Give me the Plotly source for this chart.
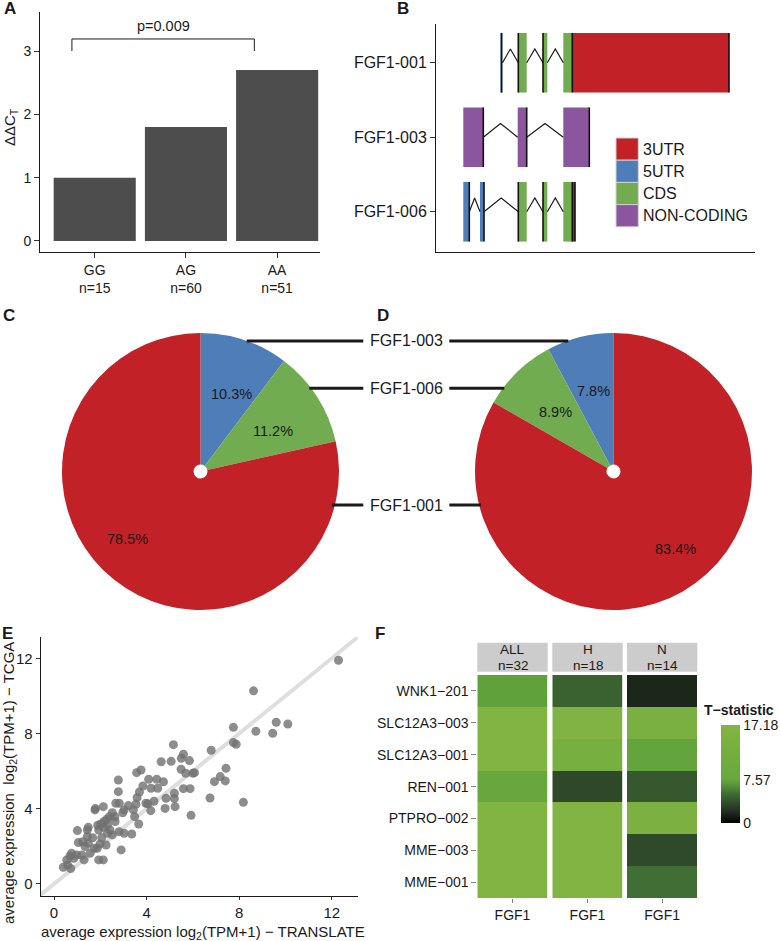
import math
import plotly.graph_objects as go

W, H = 780, 941
FONT = "Liberation Sans, Arial, sans-serif"
INK = "#1a1a1a"

# ---------------- Panel A data ----------------
genotypes = ["GG", "AG", "AA"]
genotype_n = [15, 60, 51]
ddct = [1.0, 1.8, 2.7]
p_label = "p=0.009"
bracket_x = [-0.25, 1.75]
bracket_y = [3.0, 3.19]

# ---------------- Panel B data ----------------
transcripts = ["FGF1-001", "FGF1-003", "FGF1-006"]
tx_pos = [3, 2, 1]
exon_tx = ["FGF1-001"] * 5 + ["FGF1-003"] * 3 + ["FGF1-006"] * 6
exon_start = [64.5, 82.3, 107.0, 127.3, 136.3,
              27.3, 81.7, 127.3,
              27.3, 44.0, 82.3, 107.0, 127.3, 136.3]
exon_end = [66.5, 90.7, 111.3, 136.3, 293.0,
            47.3, 90.7, 153.3,
            33.3, 48.0, 90.7, 111.3, 136.3, 139.0]
exon_type = ["5UTR", "CDS", "CDS", "CDS", "3UTR",
             "NON-CODING", "NON-CODING", "NON-CODING",
             "5UTR", "5UTR", "CDS", "CDS", "CDS", "3UTR"]
edge_tx = ["FGF1-001"] * 5 + ["FGF1-003"] * 3 + ["FGF1-006"] * 6
edge_x = [65.5, 82.3, 107.0, 136.3, 293.0,
          47.3, 90.7, 153.3,
          33.3, 48.0, 82.3, 107.0, 136.3, 139.0]
intron_tx = ["FGF1-001"] * 3 + ["FGF1-003"] * 2 + ["FGF1-006"] * 4
intron_start = [66.5, 90.7, 111.3, 47.3, 90.7, 33.3, 48.0, 90.7, 111.3]
intron_end = [82.3, 107.0, 127.3, 81.7, 127.3, 44.0, 82.3, 107.0, 127.3]
feature_types = ["3UTR", "5UTR", "CDS", "NON-CODING"]
feature_colors = ["#C22227", "#4F7DB8", "#71AD50", "#8B569E"]

# ---------------- Panels C / D data ----------------
pie_labels = ["FGF1-003", "FGF1-006", "FGF1-001"]
pie_colors = ["#4F7DB8", "#71AD50", "#C22227"]
pie_c = [10.3, 11.2, 78.5]
pie_d = [7.8, 8.9, 83.4]

# ---------------- Panel E data ----------------
translate_x = [12.29, 8.62, 7.75, 8.72, 9.6, 9.45, 10.1, 7.75, 7.87, 5.16,
               6.79, 5.59, 5.5, 5.85, 4.63, 5.06, 5.49, 5.69, 6.07, 6.0,
               7.18, 7.43, 6.93, 7.4, 3.57, 3.76, 2.78, 4.09, 4.44, 4.73,
               3.84, 4.19, 4.48, 5.59, 5.88, 3.69, 2.78, 5.2, 3.59, 4.84,
               5.2, 6.74, 3.97, 4.32, 4.05, 3.54, 8.18, 4.8, 5.23, 4.18,
               5.92, 3.48, 3.66, 2.67, 2.82, 3.21, 3.03, 2.97, 3.43, 1.79,
               2.13, 1.77, 2.52, 2.63, 2.39, 2.28, 2.16, 2.02, 1.89, 2.31,
               2.64, 2.13, 1.93, 2.42, 1.48, 1.44, 1.01, 2.31, 2.81, 3.03,
               3.36, 2.52, 1.67, 2.06, 1.44, 1.05, 1.24, 1.48, 1.99, 2.25,
               1.74, 1.87, 1.34, 1.56, 1.2, 0.98, 0.76, 0.69, 0.86, 1.3,
               1.93, 2.13, 2.9, 0.55, 0.4, 0.72, 0.59]
tcga_y = [11.9, 10.27, 8.33, 8.12, 8.6, 8.01, 8.51, 7.52, 7.43, 7.41,
          7.11, 6.9, 6.68, 6.56, 6.5, 6.52, 6.1, 5.89, 5.92, 5.89,
          5.71, 6.15, 5.44, 5.48, 5.92, 6.06, 5.53, 5.57, 5.57, 5.43,
          5.21, 5.09, 5.09, 5.07, 5.07, 4.89, 4.91, 4.82, 4.59, 4.56,
          4.54, 4.57, 4.29, 4.4, 4.26, 4.24, 4.34, 4.02, 4.11, 3.9,
          3.65, 3.58, 3.19, 4.29, 4.29, 4.17, 3.94, 3.79, 3.94, 4.01,
          4.11, 3.94, 3.79, 3.58, 3.58, 3.44, 3.32, 3.19, 3.12, 3.14,
          3.32, 3.01, 2.87, 2.87, 3.01, 2.87, 2.84, 2.7, 2.78, 2.7,
          2.66, 2.61, 2.46, 2.46, 2.52, 2.2, 2.25, 2.16, 2.13, 2.07,
          1.9, 1.9, 1.99, 1.63, 1.54, 1.54, 1.63, 1.49, 1.37, 1.28,
          1.28, 1.28, 1.81, 1.28, 0.89, 0.82, 1.01]
e_ticks = [0, 4, 8, 12]

# ---------------- Panel F data ----------------
iso_rows = ["WNK1\u2212201", "SLC12A3\u2212003", "SLC12A3\u2212001", "REN\u2212001",
            "PTPRO\u2212002", "MME\u2212003", "MME\u2212001"]
groups = ["ALL", "H", "N"]
group_n = [32, 18, 14]
gene_col = ["FGF1"]
t_all = [7.3, 17.0, 17.0, 7.7, 17.0, 17.0, 17.0]
t_h = [4.6, 16.5, 13.5, 3.3, 17.0, 17.0, 17.0]
t_n = [1.6, 14.0, 7.5, 4.1, 15.0, 3.4, 5.2]
t_max = 17.18
cbar_ticks = [0, 7.57, 17.18]


def px(x):
    return x / W


def py(y):
    return 1 - y / H


fig = go.Figure()
shapes = []
annotations = []


def ann(text, x, y, size=14, xanchor="center", yanchor="middle", bold=False,
        angle=0, xref="paper", yref="paper", **kw):
    if bold:
        text = "<b>" + text + "</b>"
    annotations.append(dict(text=text, x=x, y=y, xref=xref, yref=yref,
                            xanchor=xanchor, yanchor=yanchor, showarrow=False,
                            textangle=angle, font=dict(size=size, color=INK, family=FONT), **kw))


axis_common = dict(showline=True, linecolor=INK, linewidth=1, showgrid=False,
                   zeroline=False, ticks="outside", ticklen=5, tickcolor="#333333",
                   tickfont=dict(size=14, color=INK, family=FONT))

# ---------------- Panel A ----------------
fig.add_trace(go.Bar(x=list(range(len(genotypes))), y=ddct, width=0.9,
                     marker=dict(color="#4D4D4D", line=dict(width=0)),
                     xaxis="x", yaxis="y", hoverinfo="skip"))
fig.add_trace(go.Scatter(x=[bracket_x[0], bracket_x[0], bracket_x[1], bracket_x[1]],
                         y=[bracket_y[0], bracket_y[1], bracket_y[1], bracket_y[0]],
                         mode="lines", line=dict(color=INK, width=1),
                         xaxis="x", yaxis="y", hoverinfo="skip"))
ann(p_label, sum(bracket_x) / 2, bracket_y[1], size=14.5, yanchor="bottom",
    xref="x", yref="y", yshift=3)
ann("\u0394\u0394C<sub>T</sub>", px(11), py(127), size=15, angle=-90)

# ---------------- Panel B ----------------
pos_of = dict(zip(transcripts, tx_pos))
for ftype, fcol in zip(feature_types, feature_colors):
    idx = [i for i, t in enumerate(exon_type) if t == ftype]
    fig.add_trace(go.Bar(orientation="h",
                         y=[pos_of[exon_tx[i]] for i in idx],
                         x=[exon_end[i] - exon_start[i] for i in idx],
                         base=[exon_start[i] for i in idx],
                         width=0.8, marker=dict(color=fcol, line=dict(width=0)),
                         xaxis="x2", yaxis="y2", hoverinfo="skip"))
ix, iy = [], []
for t, s, e in zip(intron_tx, intron_start, intron_end):
    yc = pos_of[t]
    ix += [s, (s + e) / 2, e, None]
    iy += [yc, yc + 0.185, yc, None]
fig.add_trace(go.Scatter(x=ix, y=iy, mode="lines", line=dict(color=INK, width=1.2),
                         xaxis="x2", yaxis="y2", hoverinfo="skip"))
ex, ey = [], []
for t, xv in zip(edge_tx, edge_x):
    yc = pos_of[t]
    ex += [xv, xv, None]
    ey += [yc - 0.4, yc + 0.4, None]
fig.add_trace(go.Scatter(x=ex, y=ey, mode="lines", line=dict(color="#111111", width=1.6),
                         xaxis="x2", yaxis="y2", hoverinfo="skip"))
# legend of B
leg_top, leg_h = 138, 22.2
for i, (ftype, fcol) in enumerate(zip(feature_types, feature_colors)):
    y0 = leg_top + i * leg_h
    shapes.append(dict(type="rect", xref="paper", yref="paper",
                       x0=px(616), x1=px(638.3), y0=py(y0 + leg_h), y1=py(y0),
                       fillcolor=fcol, line=dict(color="#d0d0d0", width=1)))
    ann(ftype, px(641), py(y0 + leg_h / 2), size=16, xanchor="left")

# ---------------- Panels C / D ----------------
R = 138.5
pie_centers = [(200.5, 471.5), (613.5, 471.5)]
for vals, (cx, cy), direction in zip([pie_c, pie_d], pie_centers,
                                     ["clockwise", "counterclockwise"]):
    total = sum(vals)
    # plotly starts a counterclockwise pie after its first slice; shift back to 12 o'clock
    rot = 0 if direction == "clockwise" else -360.0 * vals[0] / total
    fig.add_trace(go.Pie(values=vals, labels=pie_labels, sort=False,
                         direction=direction, rotation=rot, hole=0.05,
                         marker=dict(colors=pie_colors, line=dict(width=0)),
                         textinfo="none", hoverinfo="skip", showlegend=False,
                         domain=dict(x=[px(cx - R), px(cx + R)],
                                     y=[py(cy + R), py(cy - R)])))
    sgn = 1 if direction == "clockwise" else -1
    cum = 0
    for v in vals:
        frac_mid = (cum + v / 2) / total
        cum += v
        big = v / total > 0.5
        theta = 2 * math.pi * frac_mid + (0.15 if big else 0.06 * (1 if sgn > 0 else 0))
        rr = (0.72 if big else 0.6) * R
        lx = cx + sgn * rr * math.sin(theta)
        ly = cy - rr * math.cos(theta)
        ann(f"{v:.1f}%", px(lx), py(ly), size=14.5)

# connector labels between pies
connectors = [(341, 246.7, 568.3), (388.3, 309.3, 504.3), (505, 331.7, 481)]
for lab, (yl, xl, xr) in zip(pie_labels, connectors):
    ann(lab, px(406.5), py(yl), size=16)
    shapes.append(dict(type="line", xref="paper", yref="paper",
                       x0=px(xl), x1=px(363.3), y0=py(yl), y1=py(yl),
                       line=dict(color=INK, width=3)))
    shapes.append(dict(type="line", xref="paper", yref="paper",
                       x0=px(449.3), x1=px(xr), y0=py(yl), y1=py(yl),
                       line=dict(color=INK, width=3)))

# ---------------- Panel E ----------------
fig.add_trace(go.Scatter(x=[-1, 14], y=[-1, 14], mode="lines",
                         line=dict(color="#DEDEDE", width=4),
                         xaxis="x3", yaxis="y3", hoverinfo="skip"))
fig.add_trace(go.Scatter(x=translate_x, y=tcga_y, mode="markers",
                         marker=dict(size=9, color="#707070", opacity=0.8,
                                     line=dict(width=0)),
                         xaxis="x3", yaxis="y3", hoverinfo="skip"))
ann("average expression log<sub>2</sub>(TPM+1) \u2212 TRANSLATE", px(203), py(932), size=15)
ann("average expression  log<sub>2</sub>(TPM+1) \u2212 TCGA", px(9), py(783), size=15, angle=-90)

# ---------------- Panel F ----------------
for k, (vals, xa) in enumerate(zip([t_all, t_h, t_n], ["x4", "x5", "x6"])):
    fig.add_trace(go.Heatmap(x=gene_col, y=iso_rows, z=[[v] for v in vals],
                             coloraxis="coloraxis", xaxis=xa, yaxis="y4",
                             hoverinfo="skip"))
facet_x = [(477.3, 547.7), (552.3, 622.7), (627.0, 697.3)]
for g, n, (x0, x1) in zip(groups, group_n, facet_x):
    shapes.append(dict(type="rect", xref="paper", yref="paper",
                       x0=px(x0), x1=px(x1), y0=py(671.7), y1=py(642.7),
                       fillcolor="#CCCCCC", line=dict(width=0), layer="below"))
    ann(g, px((x0 + x1) / 2), py(649.5), size=13.5)
    ann(f"n={n}", px((x0 + x1) / 2), py(665), size=13.5)
ann("T\u2212statistic", px(739), py(710), size=14, bold=True)

colorscale = [[0.0, "#000000"], [0.1, "#1E2A1C"], [0.2, "#2F4B2A"],
              [0.3, "#3F6D35"], [0.4, "#5A9A3C"], [0.45, "#68A83D"],
              [1.0, "#82B443"]]

# ---------------- Panel labels ----------------
for lab, xl, yl in [("A", 2, 9), ("B", 395, 9), ("C", 1, 316), ("D", 375, 316),
                    ("E", 0, 633), ("F", 373, 633)]:
    ann(lab, px(xl), py(yl), size=17, bold=True, xanchor="left")

fcat = dict(categoryorder="array", categoryarray=iso_rows, autorange="reversed")

fig.update_layout(
    width=W, height=H, margin=dict(l=0, r=0, t=0, b=0),
    paper_bgcolor="white", plot_bgcolor="white", showlegend=False,
    barmode="overlay", font=dict(family=FONT, color=INK, size=14),
    hovermode=False,
    xaxis=dict(axis_common, domain=[px(40), px(320)], anchor="y", range=[-0.6, 2.47],
               tickvals=list(range(len(genotypes))),
               ticktext=[f"{g}<br>n={n}" for g, n in zip(genotypes, genotype_n)]),
    yaxis=dict(axis_common, domain=[py(252), py(12)], anchor="x", range=[-0.174, 3.616],
               tickvals=[0, 1, 2, 3]),
    xaxis2=dict(axis_common, domain=[px(436), px(755)], anchor="y2", range=[0, 319],
                ticks="", showticklabels=False),
    yaxis2=dict(axis_common, domain=[py(252), py(24)], anchor="x2", range=[0.46, 3.52],
                tickvals=tx_pos, ticktext=transcripts,
                tickfont=dict(size=16, color=INK, family=FONT)),
    xaxis3=dict(axis_common, domain=[px(40.7), px(357.7)], anchor="y3",
                range=[-0.575, 13.12], tickvals=e_ticks, ticklen=3,
                tickfont=dict(size=15, color=INK, family=FONT)),
    yaxis3=dict(axis_common, domain=[py(896), py(636.7)], anchor="x3",
                range=[-0.64, 13.15], tickvals=e_ticks, ticklen=4,
                tickfont=dict(size=15, color=INK, family=FONT)),
    xaxis4=dict(domain=[px(477.3), px(547.7)], anchor="y4", ticks="outside", ticklen=4,
                tickcolor="#7f7f7f", showgrid=False, zeroline=False,
                tickfont=dict(size=14, color=INK, family=FONT)),
    xaxis5=dict(domain=[px(552.3), px(622.7)], anchor="y4", ticks="outside", ticklen=4,
                tickcolor="#7f7f7f", showgrid=False, zeroline=False,
                tickfont=dict(size=14, color=INK, family=FONT)),
    xaxis6=dict(domain=[px(627), px(697.3)], anchor="y4", ticks="outside", ticklen=4,
                tickcolor="#7f7f7f", showgrid=False, zeroline=False,
                tickfont=dict(size=14, color=INK, family=FONT)),
    yaxis4=dict(fcat, domain=[py(898.3), py(675)], anchor="x4", ticks="outside",
                ticklen=5, tickcolor="#7f7f7f", showgrid=False, zeroline=False,
                tickfont=dict(size=14, color=INK, family=FONT)),
    coloraxis=dict(colorscale=colorscale, cmin=0, cmax=t_max,
                   colorbar=dict(x=px(721), xanchor="left", xpad=0, ypad=0,
                                 y=py(774), yanchor="middle", len=98, lenmode="pixels",
                                 thickness=19, outlinewidth=0, ticks="",
                                 tickvals=cbar_ticks,
                                 ticktext=[f"{v:g}" for v in cbar_ticks],
                                 tickfont=dict(size=14, color=INK, family=FONT))),
    shapes=shapes, annotations=annotations,
)

fig.write_html("out.html", config={"displayModeBar": False, "staticPlot": True},
               post_script="document.body.style.margin='0px';"
                           "document.body.style.overflow='hidden';")
